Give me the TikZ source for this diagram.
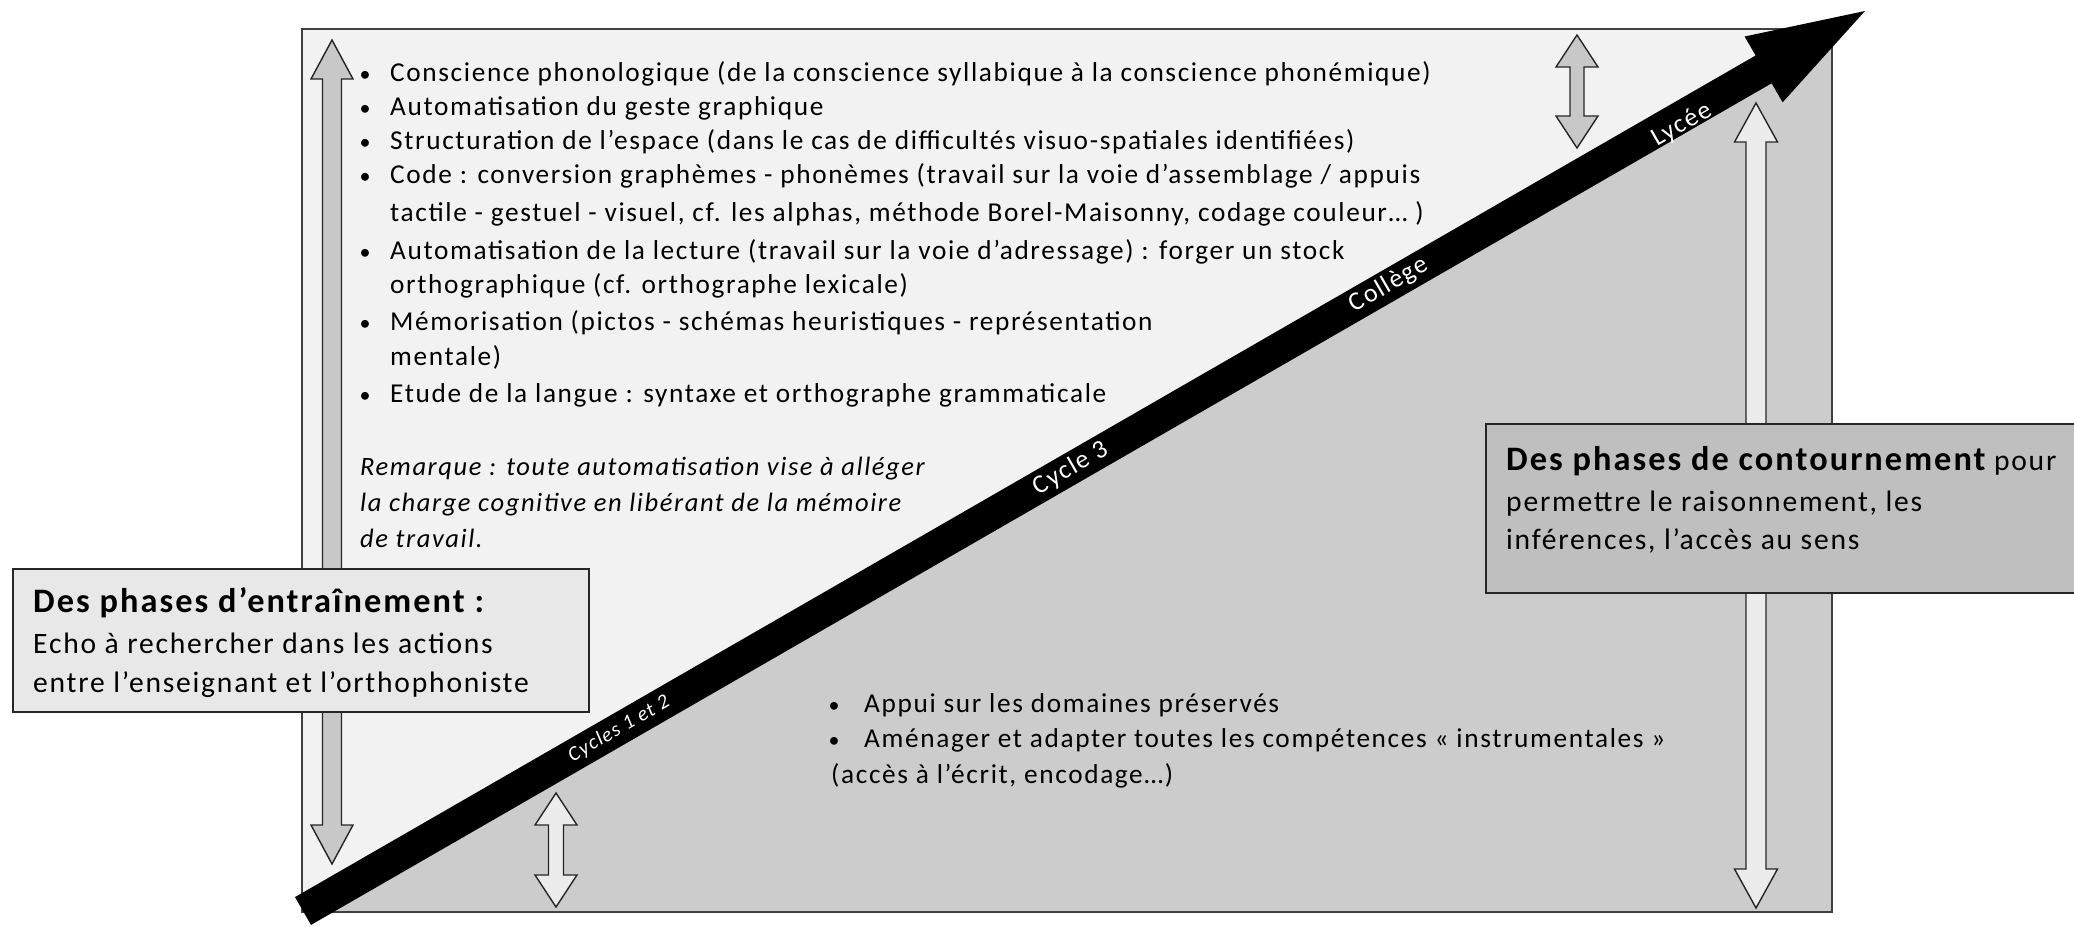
\documentclass[tikz,border=0pt]{standalone}
\usepackage{fontspec}
\setmainfont{Carlito}[LetterSpace=6]
\definecolor{lightbg}{HTML}{F2F2F2}
\definecolor{darkbg}{HTML}{CCCCCC}
\definecolor{frame}{HTML}{404040}
\definecolor{leftbox}{HTML}{E8E8E8}
\definecolor{rightbox}{HTML}{BFBFBF}
\definecolor{grayarrow}{HTML}{C8C8C8}
\definecolor{lightarrow}{HTML}{ECECEC}
\newcommand{\mydarrow}[7]{%
  \filldraw[#7] (#1,#2) -- ({#1+#5},{#2+#4}) -- ({#1+#6},{#2+#4}) -- ({#1+#6},{#3-#4})
   -- ({#1+#5},{#3-#4}) -- (#1,#3) -- ({#1-#5},{#3-#4}) -- ({#1-#6},{#3-#4})
   -- ({#1-#6},{#2+#4}) -- ({#1-#5},{#2+#4}) -- cycle;}
\begin{document}
\begin{tikzpicture}[x=1pt,y=-1pt,
  body/.style={anchor=base west, inner sep=0pt, font=\fontsize{27.3}{32}\selectfont},
  bul/.style={anchor=base, inner sep=0pt, font=\fontsize{22}{30}\selectfont},
  rem/.style={anchor=base west, inner sep=0pt, font=\fontsize{26.5}{30}\selectfont\itshape},
  boxtxt/.style={anchor=base west, inner sep=0pt, font=\fontsize{29.6}{34}\selectfont},
  boxhead/.style={anchor=base west, inner sep=0pt, font=\fontsize{34.3}{38}\selectfont\bfseries},
  lbl/.style={inner sep=0pt, text=white, rotate=30, font=\fontsize{26}{30}\selectfont},
  arrowline/.style={draw=black!85, line width=1.4pt},
  boxline/.style={draw=black!85, line width=1.6pt}]
\useasboundingbox (0,0) rectangle (2074,926);
% main panel
\fill[lightbg] (302,29) rectangle (1832,912);
\fill[darkbg] (302,912) -- (1832,912) -- (1832,29) -- cycle;
\draw[frame, line width=1.6pt] (302,29) rectangle (1832,912);
% vertical double arrows
\mydarrow{332}{40}{864}{39}{21}{9.5}{arrowline, fill=grayarrow}
\mydarrow{1577}{35}{148}{32}{21}{7}{arrowline, fill=grayarrow}
\mydarrow{556}{793}{907}{32}{21}{7.5}{arrowline, fill=lightarrow}
\mydarrow{1756}{103}{908}{39}{21.5}{10}{arrowline, fill=lightarrow}
% boxes
\node[boxline, fill=leftbox, minimum width=576pt, minimum height=143pt, anchor=north west, inner sep=0pt] (lbox) at (12,568) {};
\node[boxline, fill=rightbox, minimum width=600pt, minimum height=169pt, anchor=north west, inner sep=0pt] (rbox) at (1485,423) {};
% main black arrow
\fill[black] (311.0,924.9) -- (295.0,897.1) -- (1755.6,55.5) -- (1744.6,36.5) -- (1865,11)
  -- (1782.6,102.3) -- (1771.6,83.3) -- cycle;
\node[lbl, font=\fontsize{20.5}{30}\selectfont\itshape] (c12) at (619,729) {Cycles 1 et 2};
\node[lbl] (c3) at (1071,468.5) {Cycle 3};
\node[lbl] (col) at (1389,285) {Collège};
\node[lbl] (lyc) at (1682,125) {Lycée};
% upper list
\node[bul] (b1) at (365,81.6) {•};
\node[body] (t1) at (390,81.6) {Conscience phonologique (de la conscience syllabique à la conscience phonémique)};
\node[bul] (b2) at (365,115.6) {•};
\node[body] (t2) at (390,115.6) {Automatisation du geste graphique};
\node[bul] (b3) at (365,149.6) {•};
\node[body] (t3) at (390,149.6) {Structuration de l’espace (dans le cas de difficultés visuo-spatiales identifiées)};
\node[bul] (b4) at (365,183.6) {•};
\node[body] (t4) at (390,183.6) {Code : conversion graphèmes - phonèmes (travail sur la voie d’assemblage / appuis};
\node[body] (t4b) at (390,221) {tactile - gestuel - visuel, cf. les alphas, méthode Borel-Maisonny, codage couleur… )};
\node[bul] (b5) at (365,259) {•};
\node[body] (t5) at (390,259) {Automatisation de la lecture (travail sur la voie d’adressage) : forger un stock};
\node[body] (t5b) at (390,293) {orthographique (cf. orthographe lexicale)};
\node[bul] (b6) at (365,330) {•};
\node[body] (t6) at (390,330) {Mémorisation (pictos - schémas heuristiques - représentation};
\node[body] (t6b) at (390,365.5) {mentale)};
\node[bul] (b7) at (365,402) {•};
\node[body] (t7) at (390,402) {Etude de la langue : syntaxe et orthographe grammaticale};
\node[rem] (r1) at (360,475) {Remarque : toute automatisation vise à alléger};
\node[rem] (r2) at (360,511.5) {la charge cognitive en libérant de la mémoire};
\node[rem] (r3) at (360,547) {de travail.};
% left box text
\node[boxhead] (lh) at (33,612) {Des phases d’entraînement :};
\node[boxtxt] (l2) at (33,653) {Echo à rechercher dans les actions};
\node[boxtxt] (l3) at (33,692) {entre l’enseignant et l’orthophoniste};
% right box text
\node[boxtxt] (rh) at (1506,470) {{\fontsize{34.3}{38}\selectfont\bfseries Des phases de contournement} pour};
\node[boxtxt] (r2b) at (1506,511) {permettre le raisonnement, les};
\node[boxtxt] (r3b) at (1506,549) {inférences, l’accès au sens};
% lower list
\node[bul] (d1) at (834,712) {•};
\node[body] (u1) at (864,712) {Appui sur les domaines préservés};
\node[bul] (d2) at (834,747) {•};
\node[body] (u2) at (864,747) {Aménager et adapter toutes les compétences « instrumentales »};
\node[body] (u3) at (831,783) {(accès à l’écrit, encodage…)};
\end{tikzpicture}
\end{document}
